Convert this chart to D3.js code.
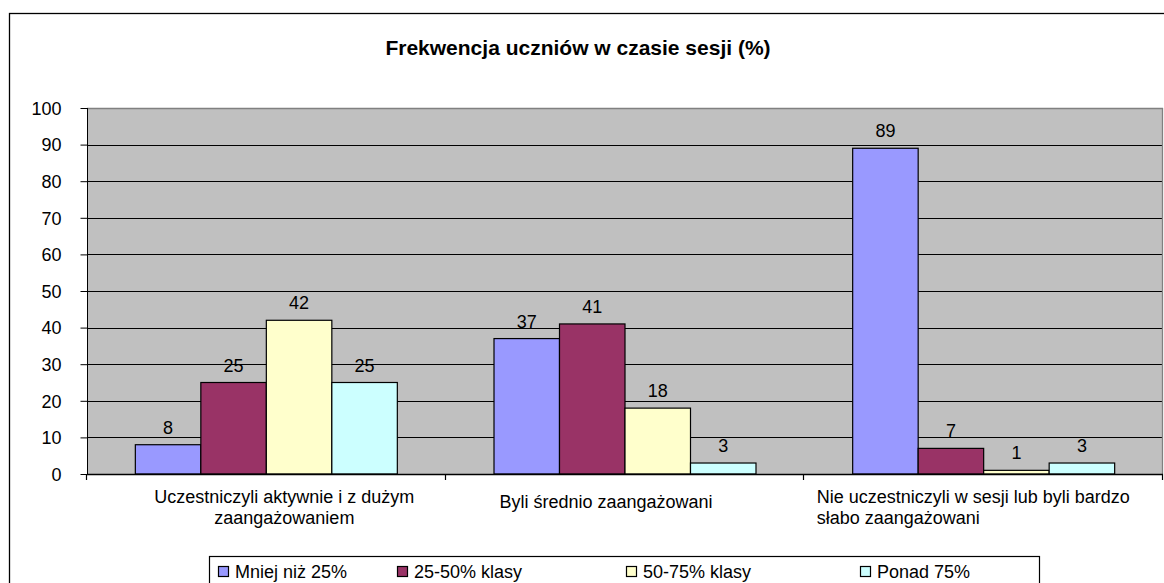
<!DOCTYPE html>
<html><head><meta charset="utf-8">
<script src="https://cdn.jsdelivr.net/npm/d3@7"></script>
<style>body{margin:0;background:#fff}svg{display:block}text{font-family:Arial,"Liberation Sans",sans-serif}</style>
</head><body>
<script>
const categories = [
  ["Uczestniczyli aktywnie i z dużym", "zaangażowaniem"],
  ["Byli średnio zaangażowani"],
  ["Nie uczestniczyli w sesji lub byli bardzo", "słabo zaangażowani"]
];
const seriesNames = ["Mniej niż 25%", "25-50% klasy", "50-75% klasy", "Ponad 75%"];
const seriesColors = ["#9999FF", "#993366", "#FFFFCC", "#CCFFFF"];
const valuesMniej = [8, 37, 89];
const values2550 = [25, 41, 7];
const values5075 = [42, 18, 1];
const valuesPonad = [25, 3, 3];
const yTicks = [0, 10, 20, 30, 40, 50, 60, 70, 80, 90, 100];
const title = "Frekwencja uczniów w czasie sesji (%)";

const series = [valuesMniej, values2550, values5075, valuesPonad];
const W = 1164, H = 583;
const plot = {l: 87, r: 1163, t: 108, b: 474};
const FS = 18;
const legendX = [218, 397, 626, 860];
// label layout: anchor offset from category center / start
const catLabelLayout = [
  {anchor: "middle", dx: 18, y0: 503},
  {anchor: "middle", dx: -19, y0: 508},
  {anchor: "start", dx: -167, y0: 503}
];

const svg = d3.select("body").append("svg").attr("width", W).attr("height", H);
svg.append("rect").attr("x", 9.5).attr("y", 13.5).attr("width", 1300).attr("height", 700)
  .attr("fill", "#fff").attr("stroke", "#000").attr("stroke-width", 1.3);

const y = d3.scaleLinear().domain([0, 100]).range([plot.b, plot.t]);
const x0 = d3.scaleBand().domain(d3.range(categories.length)).range([plot.l, plot.r]).paddingInner(0).paddingOuter(0);
const x1 = d3.scaleBand().domain(d3.range(series.length)).range([0, x0.bandwidth()]).paddingInner(0).paddingOuter(0.738);

svg.append("rect").attr("x", plot.l).attr("y", plot.t).attr("width", plot.r - plot.l).attr("height", plot.b - plot.t)
  .attr("fill", "#C0C0C0");

// gridlines
svg.append("g").selectAll("line").data(yTicks.filter(d => d > 0 && d < 100)).join("line")
  .attr("x1", plot.l).attr("x2", plot.r).attr("y1", d => Math.round(y(d)) + 0.5).attr("y2", d => Math.round(y(d)) + 0.5)
  .attr("stroke", "#000").attr("stroke-width", 1);
svg.append("line").attr("x1", plot.l).attr("x2", plot.r).attr("y1", plot.t + 0.5).attr("y2", plot.t + 0.5).attr("stroke", "#808080").attr("stroke-width", 1.3);
svg.append("line").attr("x1", plot.r - 0.5).attr("x2", plot.r - 0.5).attr("y1", plot.t).attr("y2", plot.b).attr("stroke", "#808080").attr("stroke-width", 1.3);

// bars
const g = svg.append("g");
categories.forEach((c, ci) => {
  series.forEach((s, si) => {
    const v = s[ci];
    const bx = x0(ci) + x1(si);
    g.append("rect").attr("x", bx).attr("y", y(v)).attr("width", x1.bandwidth()).attr("height", y(0) - y(v))
      .attr("fill", seriesColors[si]).attr("stroke", "#000").attr("stroke-width", 1.2);
    g.append("text").attr("x", bx + x1.bandwidth() / 2).attr("y", y(v) - 11).attr("text-anchor", "middle")
      .attr("font-size", FS).attr("fill", "#000").text(v);
  });
});

// y axis
const yAxis = d3.axisLeft(y).tickValues(yTicks).tickSize(7).tickPadding(19);
const ya = svg.append("g").attr("transform", `translate(${plot.l + 0.5},0)`).call(yAxis);
ya.select(".domain").attr("stroke", "#000").attr("d", `M0,${plot.t}V${plot.b}`);
ya.selectAll(".tick line").attr("stroke", "#000");
ya.selectAll(".tick text").attr("font-size", FS).attr("font-family", 'Arial,"Liberation Sans",sans-serif').attr("fill", "#000").attr("dy", "0.35em");

// x axis
svg.append("line").attr("x1", plot.l).attr("x2", plot.r).attr("y1", plot.b + 0.5).attr("y2", plot.b + 0.5).attr("stroke", "#000").attr("stroke-width", 1.3);
const bounds = d3.range(categories.length + 1).map(i => i < categories.length ? x0(i) : plot.r);
svg.append("g").selectAll("line").data(bounds).join("line")
  .attr("x1", d => Math.round(d) - 0.5).attr("x2", d => Math.round(d) - 0.5).attr("y1", plot.b).attr("y2", plot.b + 6)
  .attr("stroke", "#000").attr("stroke-width", 1.2);

categories.forEach((lines, ci) => {
  const cx = x0(ci) + x0.bandwidth() / 2;
  const L = catLabelLayout[ci];
  const t = svg.append("text").attr("font-size", FS).attr("fill", "#000").attr("text-anchor", L.anchor);
  lines.forEach((ln, li) => t.append("tspan").attr("x", cx + L.dx).attr("y", L.y0 + li * 21).text(ln));
});

// title
svg.append("text").attr("x", 578).attr("y", 55).attr("text-anchor", "middle").attr("font-size", 21)
  .attr("font-weight", "bold").attr("fill", "#000").text(title);

// legend
svg.append("rect").attr("x", 209.5).attr("y", 556.5).attr("width", 830).attr("height", 60)
  .attr("fill", "#fff").attr("stroke", "#000").attr("stroke-width", 1.2);
seriesNames.forEach((n, i) => {
  svg.append("rect").attr("x", legendX[i] + 0.5).attr("y", 566.5).attr("width", 10).attr("height", 10)
    .attr("fill", seriesColors[i]).attr("stroke", "#000").attr("stroke-width", 1.2);
  svg.append("text").attr("x", legendX[i] + 17).attr("y", 578).attr("font-size", FS).attr("fill", "#000").text(n);
});
</script>
</body></html>
